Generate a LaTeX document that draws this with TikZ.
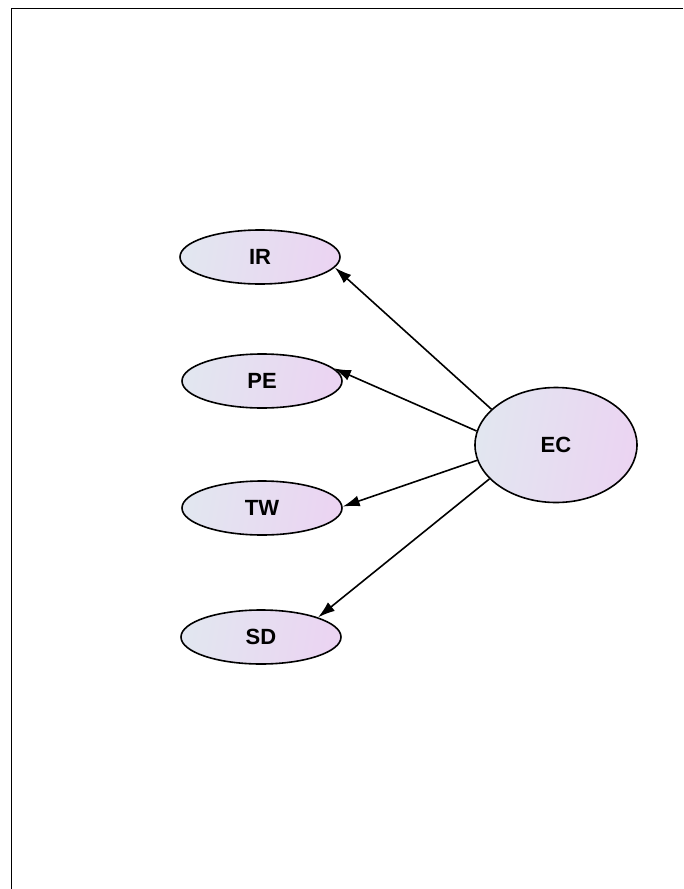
\documentclass[tikz,border=0pt]{standalone}
\usepackage{fontspec}
\setmainfont{Liberation Sans}
\usetikzlibrary{shapes.geometric,arrows.meta}
\definecolor{shadeL}{RGB}{226,230,240}
\definecolor{shadeR}{RGB}{235,212,242}
\tikzset{
  latent/.style={ellipse, draw=black, line width=1.6pt, inner sep=0pt,
    left color=shadeL, right color=shadeR, shading angle=80,
    font=\bfseries\fontsize{22}{22}\selectfont},
  small/.style={latent, minimum width=160pt, minimum height=54pt},
  big/.style={latent, minimum width=162pt, minimum height=115pt},
  conn/.style={line width=1.6pt, -{Latex[length=17pt,width=11pt]}},
  frame/.style={line width=1.6pt}
}
\begin{document}
\begin{tikzpicture}[x=1pt,y=-1pt]
\useasboundingbox (0,0) rectangle (683,889);
\coordinate (fb) at (11.5,889);
\coordinate (fc) at (11.5,8.5);
\coordinate (fr) at (683,8.5);
\draw[frame] (fb) -- (fc) -- (fr);
\node[small] (IR) at (260,257) {IR};
\node[small] (PE) at (262,381) {PE};
\node[small] (TW) at (262,508) {TW};
\node[small] (SD) at (261,637) {SD};
\node[big] (EC) at (556,445) {EC};
\draw[conn] (EC.151) -- (IR.-8);
\draw[conn] (EC.170) -- (PE.10);
\draw[conn] (EC.191) -- (TW.1);
\draw[conn] (EC.207) -- (SD.19);
\end{tikzpicture}
\end{document}
